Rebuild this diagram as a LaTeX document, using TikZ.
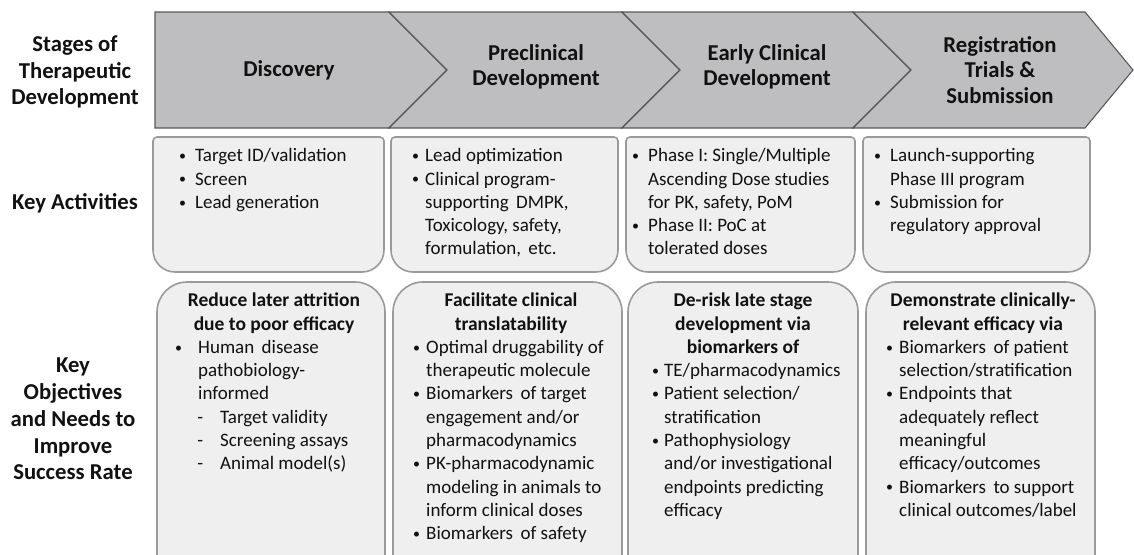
\documentclass[tikz,border=0pt]{standalone}
\usepackage{fontspec}
\setmainfont{Carlito}

\definecolor{chevfill}{HTML}{BEBEC0}
\definecolor{chevline}{HTML}{58585A}
\definecolor{boxfill}{HTML}{EFEFEF}
\definecolor{boxline}{HTML}{9A9A9A}
\definecolor{inktext}{HTML}{111111}

% small bullet hung to the left of the text start, with a chosen gap
\newcommand\bulmark{\raisebox{1.2pt}{\fontsize{14}{14}\selectfont\textbullet}}
\newcommand\bul[1][9pt]{\llap{\bulmark\hspace{#1}}}
% sub-item dash
\newcommand\subdash{\hspace{22pt}\llap{-\hspace{17pt}}}

\tikzset{
  chevron/.style={fill=chevfill, draw=chevline, line width=1.1pt, line join=miter},
  actbox/.style={fill=boxfill, draw=boxline, line width=1.6pt},
  objbox/.style={fill=boxfill, draw=boxline, line width=1.6pt},
  stagehead/.style={font=\bfseries\fontsize{22.7}{25.5}\selectfont, align=center, inner sep=0pt, text=inktext},
  sidelabel/.style={font=\bfseries\fontsize{22.7}{26.8}\selectfont, align=center, inner sep=0pt, text=inktext},
  bodytext/.style={font=\fontsize{19}{23.3}\selectfont, align=left, anchor=north west, inner sep=0pt, text=inktext},
  objtitle/.style={font=\bfseries\fontsize{19.5}{23.3}\selectfont, align=center, anchor=north, inner sep=0pt, text=inktext},
}

\begin{document}
\begin{tikzpicture}[x=1pt,y=-1pt]
\useasboundingbox (0,0) rectangle (1134,554);
\fill[white] (0,0) rectangle (1134,554);
\clip (0,0) rectangle (1134,554);

% ---- stage chevrons ----
\draw[chevron] (155,12) -- (389,12) -- (447,70) -- (389,128) -- (155,128) -- cycle;
\draw[chevron] (389,12) -- (622,12) -- (680,70) -- (622,128) -- (389,128) -- (447,70) -- cycle;
\draw[chevron] (622,12) -- (853,12) -- (911,70) -- (853,128) -- (622,128) -- (680,70) -- cycle;
\draw[chevron] (853,12) -- (1085,12) -- (1133,70) -- (1085,128) -- (853,128) -- (911,70) -- cycle;

\node[stagehead] (disc) at (289,70) {Discovery};
\node[stagehead] (precl) at (536,67) {Preclinical\\Development};
\node[stagehead] (early) at (767,67) {Early Clinical\\Development};
\node[stagehead] (reg) at (1000,70) {Registration\\Trials \&\\Submission};

% ---- row labels ----
\node[sidelabel] (lstages) at (75,72) {Stages of\\Therapeutic\\Development};
\node[sidelabel] (lact) at (75,203) {Key Activities};
\node[sidelabel] (lobj) at (73,419) {Key\\Objectives\\and Needs to\\Improve\\Success Rate};

% ---- key activity boxes (rounded lower corners) ----
\foreach \l/\r in {153/384, 391/618, 626/855, 863/1090}{
  \draw[actbox] (\l,200) [rounded corners=4pt] -- (\l,137) -- (\r,137) -- (\r,200)
        [rounded corners=22pt] -- (\r,272) -- (\l,272) -- (\l,200) -- cycle;
}

\node[bodytext] (act1) at (195,145.2) {\strut\bul Target ID/validation\\ \bul Screen\\ \bul Lead generation};
\node[bodytext] (act2) at (425,145.2) {\strut\bul[6pt]Lead optimization\\ \bul[6pt]Clinical program-\\ supporting\, DMPK,\\ Toxicology, safety,\\ formulation,\, etc.};
\node[bodytext] (act3) at (648,145.2) {\strut\bul Phase I: Single/Multiple\\ Ascending Dose studies\\ for PK, safety, PoM\\ \bul Phase II: PoC at\\ tolerated doses};
\node[bodytext] (act4) at (890,145.2) {\strut\bul Launch-supporting\\ Phase III program\\ \bul Submission for\\ regulatory approval};

% ---- objective boxes (rounded upper corners, running off the bottom) ----
\foreach \l/\r in {157/385, 393/622, 628/858, 866/1095}{
  \draw[objbox] (\l,600) [rounded corners=30pt] -- (\l,282) -- (\r,282) -- (\r,600);
}

\node[objtitle] (ot1) at (274,290.2) {\strut Reduce later attrition\\ due to poor efficacy};
\node[bodytext] (ob1) at (198,336.8) {\strut\bul[16pt]Human\, disease\\ pathobiology-\\ informed\\ \subdash Target validity\\ \subdash Screening assays\\ \subdash Animal model(s)};

\node[objtitle] (ot2) at (511,290.2) {\strut Facilitate clinical\\ translatability};
\node[bodytext] (ob2) at (426,336.8) {\strut\bul[6pt]Optimal druggability of\\ therapeutic molecule\\ \bul[6pt]Biomarkers\, of target\\ engagement and/or\\ pharmacodynamics\\ \bul[6pt]PK-pharmacodynamic\\ modeling in animals to\\ inform clinical doses\\ \bul[6pt]Biomarkers\, of safety};

\node[objtitle] (ot3) at (743,290.2) {\strut De-risk late stage\\ development via\\ biomarkers of};
\node[bodytext] (ob3) at (664,360.1) {\strut\bul[5pt]TE/pharmacodynamics\\ \bul[5pt]Patient selection/\\ stratification\\ \bul[5pt]Pathophysiology\\ and/or investigational\\ endpoints predicting\\ efficacy};

\node[objtitle] (ot4) at (983,290.2) {\strut Demonstrate clinically-\\ relevant efficacy via};
\node[bodytext] (ob4) at (899,336.8) {\strut\bul[6pt]Biomarkers\, of patient\\ selection/stratification\\ \bul[6pt]Endpoints that\\ adequately reflect\\ meaningful\\ efficacy/outcomes\\ \bul[6pt]Biomarkers\, to support\\ clinical outcomes/label};

\end{tikzpicture}
\end{document}
